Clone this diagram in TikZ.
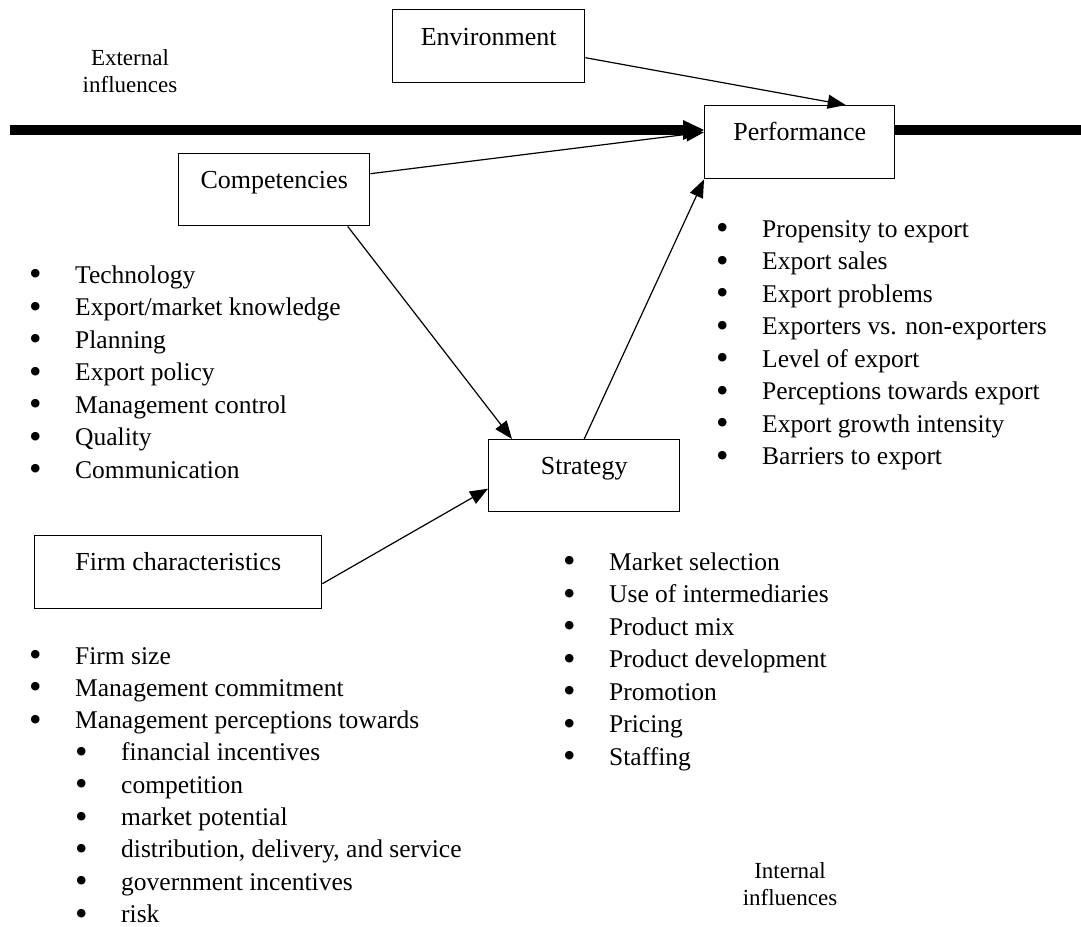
\documentclass[tikz,border=0pt]{standalone}
\usepackage{fontspec}
\setmainfont{Liberation Serif}
\usetikzlibrary{arrows.meta}
\newcommand{\listfont}{\fontsize{25.5}{32.5}\selectfont}
\newcommand{\bx}{\makebox[46pt][l]{\raisebox{-2.6pt}[0pt][0pt]{\scalebox{1.4}{•}}}}
\begin{document}
\begin{tikzpicture}[x=1pt,y=-1pt,
  box/.style={draw, line width=1.4pt, inner sep=0pt, anchor=north west},
  lbl/.style={anchor=base, inner sep=0pt, font=\fontsize{26}{30}\selectfont},
  conn/.style={line width=1.2pt, -{Triangle[length=18pt,width=14pt]}},
  thickline/.style={line width=10pt},
  lst/.style={anchor=base west, inner sep=0pt, font=\listfont},
  infl/.style={align=center, inner sep=0pt, font=\fontsize{23}{27}\selectfont}]
\useasboundingbox (0,0) rectangle (1081,926);

% boxes
\node[box, minimum width=192pt, minimum height=73pt] (env) at (392,9) {};
\node[box, minimum width=190pt, minimum height=73pt] (perf) at (704,105) {};
\node[box, minimum width=191pt, minimum height=72pt] (comp) at (178,153) {};
\node[box, minimum width=191pt, minimum height=72pt] (strat) at (488,439) {};
\node[box, minimum width=287pt, minimum height=73pt] (firm) at (34,535) {};

\node[lbl] (envt) at ([yshift=-36pt]env.north) {Environment};
\node[lbl] (perft) at ([yshift=-35pt]perf.north) {Performance};
\node[lbl] (compt) at ([yshift=-35pt]comp.north) {Competencies};
\node[lbl] (stratt) at ([yshift=-35pt]strat.north) {Strategy};
\node[lbl] (firmt) at ([yshift=-35pt]firm.north) {Firm characteristics};

% influences
\node[infl] (ext) at (130,71) {External\\influences};
\node[infl] (int) at (790,884) {Internal\\influences};

% thick boundary line
\coordinate (lineL) at (10,130);
\coordinate (lineR) at (1081,130);
\draw[thickline, -{Triangle[length=21pt,width=20pt,line width=0pt]}] (lineL) -- (lineL -| perf.west);
\draw[thickline] (perf.east |- lineR) -- (lineR);

% connectors
\draw[conn] ([yshift=-11.5pt]env.east) -- ([xshift=46pt]perf.north);
\draw[conn] ([yshift=16pt]comp.east) -- ([yshift=10pt]perf.west);
\draw[conn] ([xshift=73.5pt]comp.south) -- ([xshift=24pt]strat.north west);
\draw[conn] (strat.north) -- (perf.south west);
\draw[conn] ([yshift=-11.5pt]firm.east) -- ([yshift=-13pt]strat.west);

% lists
\node[lst] (complist) at (29,283) {\begin{tabular}[t]{@{}l@{}}
\bx Technology\\
\bx Export/market knowledge\\
\bx Planning\\
\bx Export policy\\
\bx Management control\\
\bx Quality\\
\bx Communication
\end{tabular}};

\node[lst] (perflist) at (716,237) {\begin{tabular}[t]{@{}l@{}}
\bx Propensity to export\\
\bx Export sales\\
\bx Export problems\\
\bx Exporters vs. non-exporters\\
\bx Level of export\\
\bx Perceptions towards export\\
\bx Export growth intensity\\
\bx Barriers to export
\end{tabular}};

\node[lst] (stratlist) at (563,570) {\begin{tabular}[t]{@{}l@{}}
\bx Market selection\\
\bx Use of intermediaries\\
\bx Product mix\\
\bx Product development\\
\bx Promotion\\
\bx Pricing\\
\bx Staffing
\end{tabular}};

\node[lst, font=\fontsize{25.5}{32.3}\selectfont] (firmlist) at (29,664) {\begin{tabular}[t]{@{}l@{}}
\bx Firm size\\
\bx Management commitment\\
\bx Management perceptions towards\\
\hspace*{46pt}\bx financial incentives\\
\hspace*{46pt}\bx competition\\
\hspace*{46pt}\bx market potential\\
\hspace*{46pt}\bx distribution, delivery, and service\\
\hspace*{46pt}\bx government incentives\\
\hspace*{46pt}\bx risk\\[-9pt]
\end{tabular}};
\end{tikzpicture}
\end{document}
